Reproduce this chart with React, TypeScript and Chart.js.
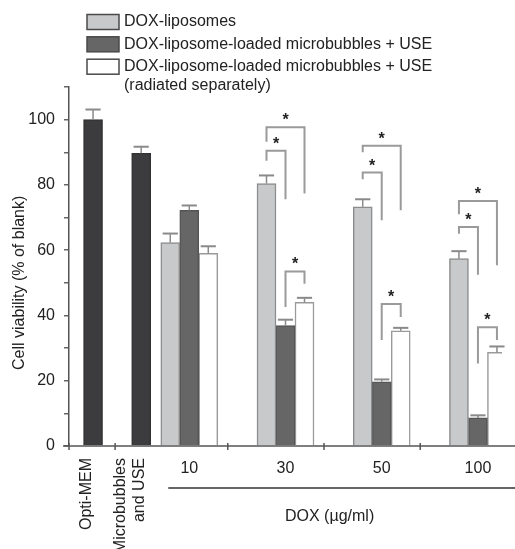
import React, { useEffect, useRef } from "react";
import { Chart, registerables } from "chart.js";

Chart.register(...registerables);

// ---- data ----
const categories = ["Opti-MEM", "Microbubbles|and USE", "10", "", "30", "", "50", "", "100"];
const seriesLabels = [
  "DOX-liposomes",
  "DOX-liposome-loaded microbubbles + USE",
  "DOX-liposome-loaded microbubbles + USE|(radiated separately)",
];
const controlLabel = "Control";

const lipoValues = [null, null, 62.3, null, 80.4, null, 73.3, null, 57.4];
const lipoErr = [null, null, 2.8, null, 2.5, null, 2.3, null, 2.3];
const mbValues = [null, null, 72.2, null, 36.9, null, 19.7, null, 8.6];
const mbErr = [null, null, 1.5, null, 1.8, null, 0.7, null, 0.8];
const sepValues = [null, null, 59.0, null, 44.0, null, 35.3, null, 28.7];
const sepErr = [null, null, 2.2, null, 1.4, null, 0.9, null, 1.8];
const controlValues = [100, 89.7, null, null, null, null, null, null, null];
const controlErr = [3.1, 2.0, null, null, null, null, null, null, null];

// significance brackets (series index: 0 lipo, 1 mb, 2 sep)
const sigCategory = ["30", "30", "30", "50", "50", "50", "100", "100", "100"];
const sigFrom = [0, 0, 1, 0, 0, 1, 0, 0, 1];
const sigTo = [1, 2, 2, 1, 2, 2, 1, 2, 2];
const sigTop = [90.5, 97.7, 53.5, 83.8, 92.0, 43.5, 67.1, 75.1, 36.4];
const sigLeftEnd = [87.4, 93.2, 42.6, 81.7, 90.0, 32.5, 65.0, 71.0, 25.3];
const sigRightEnd = [75.6, 77.4, 49.7, 69.2, 72.2, 39.5, 52.5, 55.4, 32.5];
const sigMark = "*";

const yTitle = "Cell viability (% of blank)";
const xTitle = "DOX (\u00b5g/ml)";
const yMin = 0;
const yMax = 110;
const yStep = 10;

const FONT = '"Liberation Sans", Arial, Helvetica, sans-serif';
const TEXT = "#222222";

export default function App() {
  const ref = useRef<HTMLCanvasElement | null>(null);

  useEffect(() => {
    const canvas = ref.current;
    if (!canvas) return;
    const fills = ["#c8c9cb", "#666666", "#ffffff", "#3c3c3e"];
    const borders = ["#8c8c8c", "#555555", "#9a9a9a", "#333333"];
    const errArrays = [lipoErr, mbErr, sepErr, controlErr];

    const annot = {
      id: "annot",
      afterDatasetsDraw(chart: any) {
        const ctx = chart.ctx;
        const ys = chart.scales.y;
        ctx.save();
        // error bars
        chart.data.datasets.forEach((ds: any, di: number) => {
          const meta = chart.getDatasetMeta(di);
          meta.data.forEach((bar: any, j: number) => {
            const v = ds.data[j];
            const e = errArrays[di][j];
            if (v == null || e == null) return;
            const yb = ys.getPixelForValue(v);
            const yt = ys.getPixelForValue(v + e);
            const hw = bar.width * 0.4;
            ctx.strokeStyle = "#8a8a8a";
            ctx.lineWidth = 1.5;
            ctx.beginPath();
            ctx.moveTo(bar.x, yb);
            ctx.lineTo(bar.x, yt);
            ctx.stroke();
            ctx.lineWidth = 2;
            ctx.beginPath();
            ctx.moveTo(bar.x - hw, yt);
            ctx.lineTo(bar.x + hw, yt);
            ctx.stroke();
          });
        });
        // brackets
        for (let k = 0; k < sigCategory.length; k++) {
          const ci = categories.indexOf(sigCategory[k]);
          const x1 = chart.getDatasetMeta(sigFrom[k]).data[ci].x;
          const x2 = chart.getDatasetMeta(sigTo[k]).data[ci].x;
          const yt = ys.getPixelForValue(sigTop[k]);
          const yl = ys.getPixelForValue(sigLeftEnd[k]);
          const yr = ys.getPixelForValue(sigRightEnd[k]);
          ctx.strokeStyle = "#9a9a9a";
          ctx.lineWidth = 2;
          ctx.beginPath();
          ctx.moveTo(x1, yl);
          ctx.lineTo(x1, yt);
          ctx.lineTo(x2, yt);
          ctx.lineTo(x2, yr);
          ctx.stroke();
          ctx.fillStyle = TEXT;
          ctx.font = `bold 16px ${FONT}`;
          ctx.textAlign = "center";
          ctx.textBaseline = "alphabetic";
          ctx.fillText(sigMark, (x1 + x2) / 2, yt - 2);
        }
        ctx.restore();
      },
      afterDraw(chart: any) {
        const ctx = chart.ctx;
        const xs = chart.scales.x;
        const ys = chart.scales.y;
        const area = chart.chartArea;
        const W = chart.width;
        ctx.save();
        // x axis line
        const y0 = ys.getPixelForValue(0);
        ctx.strokeStyle = "#555555";
        ctx.lineWidth = 1.5;
        ctx.beginPath();
        ctx.moveTo(area.left - 6, y0);
        ctx.lineTo(W, y0);
        ctx.stroke();
        // x ticks
        const slot = xs.getPixelForValue(1) - xs.getPixelForValue(0);
        const tickXs = [area.left, (xs.getPixelForValue(0) + xs.getPixelForValue(1)) / 2 - 2];
        ["10", "30", "50"].forEach((c) => tickXs.push(xs.getPixelForValue(categories.indexOf(c)) + slot * 0.8));
        ctx.lineWidth = 1.5;
        tickXs.forEach((tx) => {
          ctx.beginPath();
          ctx.moveTo(tx, y0 - 3);
          ctx.lineTo(tx, y0 + 4);
          ctx.stroke();
        });
        // x labels
        ctx.fillStyle = TEXT;
        ctx.font = `16px ${FONT}`;
        const doseCats = ["10", "30", "50", "100"];
        ctx.textAlign = "center";
        ctx.textBaseline = "middle";
        doseCats.forEach((c) => ctx.fillText(c, xs.getPixelForValue(categories.indexOf(c)), y0 + 23));
        // rotated labels
        [0, 1].forEach((i) => {
          const lines = categories[i].split("|");
          const cx = xs.getPixelForValue(i);
          const lh = 19;
          const start = i === 0 ? cx - 6 : cx - 11 - ((lines.length - 1) * lh) / 2;
          lines.forEach((ln, li) => {
            ctx.save();
            ctx.translate(start + li * lh, y0 + 12);
            ctx.rotate(-Math.PI / 2);
            ctx.textAlign = "right";
            ctx.textBaseline = "middle";
            ctx.fillText(ln, 0, 0);
            ctx.restore();
          });
        });
        // underline + DOX title
        const p10 = xs.getPixelForValue(categories.indexOf("10"));
        const p100 = xs.getPixelForValue(categories.indexOf("100"));
        ctx.strokeStyle = "#333333";
        ctx.lineWidth = 1.5;
        ctx.beginPath();
        ctx.moveTo(p10 - 21, y0 + 42);
        ctx.lineTo(W, y0 + 42);
        ctx.stroke();
        ctx.fillStyle = TEXT;
        ctx.textAlign = "center";
        ctx.textBaseline = "middle";
        ctx.fillText(xTitle, (p10 + p100) / 2 - 4, y0 + 71);
        // y title
        ctx.save();
        ctx.translate(20, ys.getPixelForValue(50));
        ctx.rotate(-Math.PI / 2);
        ctx.textAlign = "center";
        ctx.textBaseline = "middle";
        ctx.fillText(yTitle, 0, 0);
        ctx.restore();
        // legend
        const rows = [[22], [44.3], [66.7, 86]];
        seriesLabels.forEach((lab, i) => {
          const ry = rows[i][0];
          ctx.fillStyle = fills[i];
          ctx.fillRect(87, ry - 7.5, 32, 15);
          ctx.strokeStyle = "#4a4a4a";
          ctx.lineWidth = 1.5;
          ctx.strokeRect(87, ry - 7.5, 32, 15);
          ctx.fillStyle = TEXT;
          ctx.textAlign = "left";
          ctx.textBaseline = "middle";
          lab.split("|").forEach((ln, li) => ctx.fillText(ln, 124, rows[i][li]));
        });
        ctx.restore();
      },
    };

    const mk = (label: string, data: any[], i: number) => ({
      label,
      data,
      backgroundColor: fills[i],
      borderColor: borders[i],
      borderWidth: 1.5,
      barThickness: 19,
      skipNull: true,
    });

    const chart = new Chart(canvas, {
      type: "bar",
      data: {
        labels: categories,
        datasets: [
          mk(seriesLabels[0], lipoValues, 0),
          mk(seriesLabels[1], mbValues, 1),
          mk(seriesLabels[2], sepValues, 2),
          mk(controlLabel, controlValues, 3),
        ],
      },
      options: {
        responsive: false,
        animation: false,
        layout: { padding: { top: 87, right: 13, bottom: 103, left: 0 } },
        plugins: { legend: { display: false }, tooltip: { enabled: false } },
        scales: {
          x: { display: false, offset: true },
          y: {
            min: yMin,
            max: yMax,
            afterFit: (s: any) => {
              s.width = 69;
            },
            border: { display: true, color: "#555555", width: 1.5 },
            grid: { drawOnChartArea: false, drawTicks: true, tickLength: 5, color: "#666666", lineWidth: 1.5 },
            ticks: {
              stepSize: yStep,
              padding: 9,
              color: TEXT,
              font: { family: FONT, size: 16 },
              callback: (v: any) => (Number(v) % 20 === 0 && Number(v) <= 100 ? String(v) : ""),
            },
          },
        },
      } as any,
      plugins: [annot],
    });
    return () => chart.destroy();
  }, []);

  return (
    <div style={{ position: "fixed", left: 0, top: 0, width: 515, height: 549, background: "#fff" }}>
      <canvas ref={ref} width={515} height={549} style={{ display: "block" }} />
    </div>
  );
}
